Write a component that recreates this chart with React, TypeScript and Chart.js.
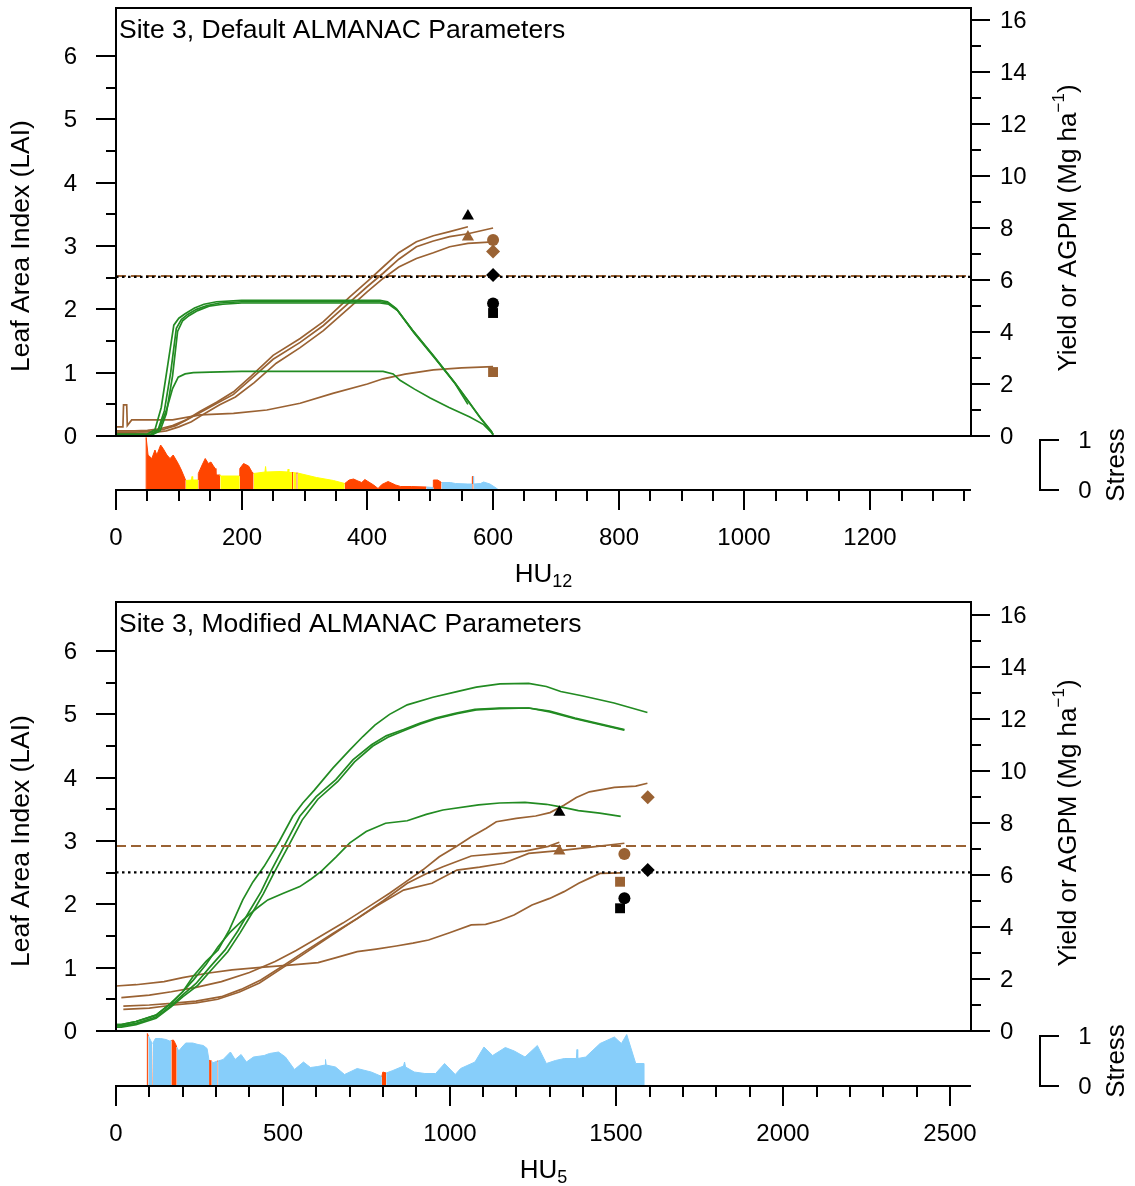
import React, { useEffect, useRef } from "react";
import { Chart, registerables } from "chart.js";

Chart.register(...registerables);

const W = 1135;
const FONT = "'Liberation Sans', Arial, Helvetica, sans-serif";
const GREEN = "#228B22";
const BROWN = "#9A6233";
const BLACK = "#000000";
const RED = "#FF4500";
const YELLOW = "#FFFF00";
const BLUE = "#87CEFA";
const STRESS_COLORS = [RED, YELLOW, BLUE]; // 0 = red, 1 = yellow, 2 = blue

// ---------------- shared tick labels ----------------
const LAI_TICKS = [0, 1, 2, 3, 4, 5, 6];
const YIELD_TICKS = [0, 2, 4, 6, 8, 10, 12, 14, 16];
const STRESS_TICKS = [0, 1];
const MARKER_SHAPES = ["triangle", "rectRot", "circle", "rect"];
const MARKER_SIZES = [7, 7, 6, 7];

// ---------------- TOP panel (Default ALMANAC parameters) ----------------
const TOP_X_TICKS = [0, 200, 400, 600, 800, 1000, 1200];

const TOP_LAI_1_X = [0, 50, 62, 72, 82, 92, 100, 110, 125, 140, 160, 200, 300, 420, 432, 445, 472, 505, 537, 558, 579, 597, 600];
const TOP_LAI_1_Y = [0.03, 0.03, 0.1, 0.45, 1.1, 1.75, 1.86, 1.93, 2.02, 2.08, 2.12, 2.14, 2.14, 2.14, 2.12, 2.02, 1.67, 1.27, 0.87, 0.58, 0.3, 0.08, 0.02];
const TOP_LAI_2_X = [0, 55, 67, 77, 87, 96, 104, 114, 128, 145, 165, 200, 300, 420, 433, 447, 474, 507, 540, 560];
const TOP_LAI_2_Y = [0.02, 0.02, 0.1, 0.4, 1.0, 1.7, 1.84, 1.92, 2.0, 2.06, 2.1, 2.12, 2.12, 2.12, 2.1, 2.0, 1.64, 1.24, 0.82, 0.5];
const TOP_LAI_3_X = [0, 58, 70, 80, 90, 98, 106, 116, 130, 148, 170, 200, 300, 420, 434, 448, 475, 508, 540, 560, 580, 598, 600];
const TOP_LAI_3_Y = [0.02, 0.02, 0.08, 0.35, 0.95, 1.65, 1.82, 1.9, 1.98, 2.05, 2.08, 2.1, 2.1, 2.1, 2.08, 1.98, 1.62, 1.22, 0.83, 0.56, 0.28, 0.06, 0.01];
const TOP_LAI_4_X = [0, 55, 68, 80, 90, 99, 110, 123, 150, 200, 300, 425, 441, 452, 475, 500, 530, 563, 585, 600];
const TOP_LAI_4_Y = [0.02, 0.02, 0.1, 0.4, 0.75, 0.93, 0.98, 1.0, 1.01, 1.02, 1.02, 1.02, 0.98, 0.88, 0.74, 0.6, 0.45, 0.3, 0.18, 0.03];

const TOP_AGPM_1_X = [0, 11, 12, 17, 18, 25, 90, 134, 187, 240, 293, 345, 400, 425, 460, 505, 550, 600];
const TOP_AGPM_1_Y = [0.35, 0.35, 1.2, 1.2, 0.4, 0.62, 0.62, 0.81, 0.87, 1.0, 1.26, 1.64, 2.0, 2.2, 2.38, 2.54, 2.62, 2.67];
const TOP_AGPM_2_X = [0, 30, 50, 70, 90, 110, 134, 160, 187, 215, 250, 293, 330, 372, 400, 425, 450, 478, 505, 531, 560];
const TOP_AGPM_2_Y = [0.2, 0.2, 0.22, 0.28, 0.4, 0.6, 0.95, 1.3, 1.7, 2.3, 3.1, 3.75, 4.4, 5.35, 5.95, 6.5, 7.05, 7.47, 7.7, 7.86, 8.05];
const TOP_AGPM_3_X = [0, 30, 55, 75, 95, 115, 134, 160, 187, 215, 250, 293, 330, 372, 400, 425, 450, 478, 505, 531, 560, 600];
const TOP_AGPM_3_Y = [0.15, 0.15, 0.18, 0.25, 0.4, 0.65, 0.9, 1.25, 1.6, 2.2, 2.95, 3.6, 4.25, 5.15, 5.75, 6.26, 6.8, 7.28, 7.5, 7.67, 7.78, 8.0];
const TOP_AGPM_4_X = [0, 30, 55, 80, 100, 120, 140, 165, 190, 220, 255, 293, 330, 372, 400, 425, 450, 478, 505, 531, 560, 600];
const TOP_AGPM_4_Y = [0.1, 0.1, 0.12, 0.2, 0.35, 0.55, 0.85, 1.2, 1.5, 2.05, 2.8, 3.4, 4.05, 4.95, 5.55, 6.06, 6.5, 6.83, 7.05, 7.28, 7.41, 7.47];

const TOP_OBS_X = [560, 600, 600, 600];
const TOP_OBS_Y = [8.46, 6.19, 5.1, 4.73];
const TOP_SIM_X = [560, 600, 600, 600];
const TOP_SIM_Y = [7.65, 7.1, 7.54, 2.46];
const TOP_MEAN_SIM = 6.15;
const TOP_MEAN_OBS = 6.12;

const TOP_STRESS_X = [48, 48, 51, 57, 62, 65, 71, 75, 81, 86, 91, 99, 104, 111, 120, 121, 122, 131, 131, 137, 142, 147, 151, 155, 158, 159, 166, 166, 197, 197, 203, 211, 216, 219, 237, 238, 239, 261, 273, 274, 275, 280, 282, 287, 289, 319, 346, 364, 371, 378, 385, 391, 396, 401, 410, 417, 423, 433, 445, 453, 470, 494, 505, 505, 512, 518, 532, 540, 560, 567, 567, 569, 569, 580, 585, 595, 606, 606];
const TOP_STRESS_Y = [0, 1.05, 0.7, 0.63, 0.8, 0.7, 0.9, 0.83, 0.7, 0.63, 0.7, 0.53, 0.4, 0.19, 0.2, 0.27, 0.2, 0.2, 0.33, 0.5, 0.63, 0.53, 0.56, 0.48, 0.43, 0.3, 0.3, 0.28, 0.28, 0.43, 0.53, 0.48, 0.37, 0.33, 0.36, 0.47, 0.36, 0.37, 0.36, 0.42, 0.35, 0.35, 0.35, 0.34, 0.34, 0.25, 0.19, 0.13, 0.2, 0.22, 0.18, 0.15, 0.21, 0.17, 0.1, 0.03, 0.11, 0.17, 0.1, 0.07, 0.07, 0.06, 0.05, 0.2, 0.2, 0.15, 0.15, 0.13, 0.12, 0.12, 0.27, 0.27, 0.12, 0.13, 0.16, 0.12, 0.03, 0];
const TOP_STRESS_T = [0, 0, 0, 0, 0, 0, 0, 0, 0, 0, 0, 0, 0, 1, 1, 1, 1, 0, 0, 0, 0, 0, 0, 0, 0, 0, 1, 1, 0, 0, 0, 0, 0, 1, 1, 1, 1, 1, 1, 1, 1, 0, 1, 0, 1, 1, 1, 0, 0, 0, 0, 0, 0, 0, 0, 0, 0, 0, 0, 0, 0, 2, 0, 0, 0, 2, 2, 2, 2, 0, 0, 2, 2, 2, 2, 2, 2, 2];

// ---------------- BOTTOM panel (Modified ALMANAC parameters) ----------------
const BOT_X_TICKS = [0, 500, 1000, 1500, 2000, 2500];

const BOT_LAI_1_X = [0, 16, 60, 120, 165, 200, 231, 270, 306, 340, 380, 410, 444, 490, 530, 560, 594, 650, 701, 740, 776, 820, 873, 950, 1022, 1080, 1151, 1237, 1290, 1333, 1400, 1493, 1593];
const BOT_LAI_1_Y = [0.1, 0.1, 0.15, 0.25, 0.44, 0.62, 0.86, 1.1, 1.28, 1.6, 2.07, 2.35, 2.6, 3.0, 3.39, 3.6, 3.8, 4.15, 4.44, 4.65, 4.83, 5.0, 5.15, 5.27, 5.36, 5.43, 5.48, 5.49, 5.44, 5.36, 5.29, 5.18, 5.03];
const BOT_LAI_2_X = [0, 16, 60, 120, 165, 200, 240, 280, 327, 365, 402, 435, 466, 510, 551, 600, 659, 710, 766, 810, 862, 910, 958, 1020, 1076, 1150, 1237, 1300, 1376, 1450, 1524];
const BOT_LAI_2_Y = [0.08, 0.08, 0.12, 0.22, 0.4, 0.57, 0.75, 1.0, 1.28, 1.58, 1.91, 2.2, 2.54, 2.98, 3.39, 3.7, 3.97, 4.28, 4.52, 4.66, 4.76, 4.86, 4.94, 5.02, 5.08, 5.1, 5.1, 5.05, 4.94, 4.85, 4.76];
const BOT_LAI_3_X = [0, 16, 60, 120, 165, 200, 245, 285, 335, 372, 410, 442, 474, 518, 558, 605, 665, 715, 770, 815, 866, 913, 960, 1022, 1080, 1150, 1237, 1300, 1376, 1450, 1524];
const BOT_LAI_3_Y = [0.06, 0.06, 0.1, 0.2, 0.38, 0.54, 0.72, 0.96, 1.25, 1.55, 1.88, 2.17, 2.5, 2.93, 3.33, 3.66, 3.94, 4.25, 4.5, 4.64, 4.75, 4.85, 4.93, 5.01, 5.07, 5.09, 5.1, 5.04, 4.93, 4.84, 4.75];
const BOT_LAI_4_X = [0, 16, 60, 120, 165, 200, 231, 270, 306, 340, 380, 420, 455, 500, 551, 585, 615, 660, 701, 750, 808, 873, 930, 980, 1087, 1150, 1226, 1290, 1333, 1386, 1450, 1513];
const BOT_LAI_4_Y = [0.1, 0.1, 0.15, 0.25, 0.44, 0.62, 0.8, 1.05, 1.33, 1.55, 1.75, 1.93, 2.07, 2.17, 2.28, 2.4, 2.52, 2.75, 2.97, 3.15, 3.28, 3.32, 3.42, 3.49, 3.57, 3.6, 3.61, 3.58, 3.54, 3.48, 3.44, 3.39];

const BOT_AGPM_1_X = [0, 60, 144, 200, 273, 348, 434, 520, 606, 660, 723, 780, 840, 890, 937, 1000, 1065, 1108, 1150, 1193, 1247, 1300, 1343, 1387, 1420, 1451, 1513];
const BOT_AGPM_1_Y = [1.73, 1.78, 1.9, 2.05, 2.22, 2.35, 2.45, 2.53, 2.63, 2.82, 3.05, 3.15, 3.27, 3.38, 3.5, 3.78, 4.08, 4.1, 4.25, 4.46, 4.85, 5.1, 5.36, 5.68, 5.88, 6.06, 6.08];
const BOT_AGPM_2_X = [16, 100, 166, 240, 316, 400, 477, 540, 594, 680, 766, 820, 862, 920, 969, 1020, 1065, 1110, 1140, 1200, 1258, 1301, 1344, 1380, 1419, 1494, 1558, 1593];
const BOT_AGPM_2_Y = [1.28, 1.38, 1.51, 1.68, 1.9, 2.25, 2.67, 3.1, 3.5, 4.15, 4.85, 5.3, 5.68, 6.2, 6.7, 7.1, 7.47, 7.8, 8.05, 8.18, 8.27, 8.4, 8.69, 8.98, 9.2, 9.37, 9.42, 9.53];
const BOT_AGPM_3_X = [22, 100, 166, 240, 316, 375, 434, 500, 573, 650, 723, 800, 873, 930, 980, 1065, 1154, 1226, 1296, 1329];
const BOT_AGPM_3_Y = [0.96, 1.0, 1.06, 1.15, 1.32, 1.6, 1.96, 2.5, 3.12, 3.75, 4.33, 5.0, 5.68, 6.05, 6.32, 6.73, 6.83, 6.92, 7.1, 7.26];
const BOT_AGPM_4_X = [22, 100, 166, 240, 305, 370, 430, 490, 551, 625, 701, 780, 862, 947, 1022, 1090, 1162, 1237, 1344, 1430, 1524];
const BOT_AGPM_4_Y = [0.83, 0.88, 0.99, 1.08, 1.22, 1.5, 1.85, 2.35, 2.86, 3.5, 4.14, 4.8, 5.42, 5.68, 6.19, 6.3, 6.45, 6.83, 6.96, 7.08, 7.22];

const BOT_OBS_X = [1329, 1594, 1524, 1511];
const BOT_OBS_Y = [8.41, 6.19, 5.11, 4.72];
const BOT_SIM_X = [1329, 1594, 1524, 1511];
const BOT_SIM_Y = [6.92, 8.99, 6.81, 5.74];
const BOT_MEAN_SIM = 7.12;
const BOT_MEAN_OBS = 6.1;

const BOT_STRESS_X = [94, 94, 97, 104, 108, 110, 118, 134, 150, 161, 166, 172, 178, 182, 188, 198, 209, 230, 246, 262, 273, 279, 287, 289, 304, 306, 321, 343, 357, 375, 391, 412, 444, 460, 487, 508, 535, 562, 583, 605, 627, 628, 630, 658, 685, 723, 765, 797, 800, 810, 830, 862, 865, 868, 894, 926, 958, 985, 1017, 1033, 1076, 1103, 1129, 1167, 1194, 1226, 1263, 1290, 1317, 1344, 1380, 1382, 1384, 1408, 1451, 1494, 1515, 1531, 1558, 1582, 1582];
const BOT_STRESS_Y = [0, 1.05, 1.0, 0.91, 0.85, 0.85, 0.95, 0.95, 0.93, 0.9, 0.91, 0.92, 0.85, 0.78, 0.7, 0.78, 0.86, 0.86, 0.83, 0.81, 0.75, 0.51, 0.5, 0.46, 0.5, 0.5, 0.53, 0.68, 0.53, 0.63, 0.48, 0.58, 0.61, 0.65, 0.68, 0.58, 0.33, 0.48, 0.37, 0.39, 0.42, 0.53, 0.42, 0.38, 0.23, 0.35, 0.28, 0.19, 0.28, 0.26, 0.31, 0.4, 0.48, 0.38, 0.28, 0.25, 0.25, 0.45, 0.23, 0.35, 0.48, 0.78, 0.61, 0.77, 0.7, 0.58, 0.81, 0.45, 0.51, 0.55, 0.55, 0.73, 0.55, 0.58, 0.85, 0.98, 0.85, 1.03, 0.45, 0.45, 0];
const BOT_STRESS_T = [0, 0, 2, 2, 0, 2, 2, 2, 2, 2, 0, 0, 0, 2, 2, 2, 2, 2, 2, 2, 2, 0, 2, 2, 0, 2, 2, 2, 2, 2, 2, 2, 2, 2, 2, 2, 2, 2, 2, 2, 2, 2, 2, 2, 2, 2, 2, 0, 0, 2, 2, 2, 2, 2, 2, 2, 2, 2, 2, 2, 2, 2, 2, 2, 2, 2, 2, 2, 2, 2, 2, 2, 2, 2, 2, 2, 2, 2, 2, 2, 2];

// ---------------- helpers ----------------
function pts(xs: number[], ys: number[]) {
  return xs.map((x, i) => ({ x, y: ys[i] }));
}

type PanelCfg = {
  top: number;
  h: number;
  boxTop: number;
  boxBottom: number;
  axisY: number;
  xMax: number;
  xTicks: number[];
  xMinor: number;
  title: string;
  sub: string;
  lai: [number[], number[]][];
  agpm: [number[], number[]][];
  obs: [number[], number[]];
  sim: [number[], number[]];
  meanSim: number;
  meanObs: number;
  stress: [number[], number[], number[]];
};

const PX_LAI = 63.33; // pixels per LAI unit
const PX_YIELD = 26.0; // pixels per Mg/ha
const PX_STRESS = 50; // pixels per stress unit
const BOX_LEFT = 116;
const BOX_RIGHT = 971;

const PANELS: PanelCfg[] = [
  {
    top: 0, h: 594, boxTop: 8, boxBottom: 436, axisY: 490,
    xMax: 1360.5, xTicks: TOP_X_TICKS, xMinor: 50,
    title: "Site 3, Default ALMANAC Parameters", sub: "12",
    lai: [[TOP_LAI_1_X, TOP_LAI_1_Y], [TOP_LAI_2_X, TOP_LAI_2_Y], [TOP_LAI_3_X, TOP_LAI_3_Y], [TOP_LAI_4_X, TOP_LAI_4_Y]],
    agpm: [[TOP_AGPM_1_X, TOP_AGPM_1_Y], [TOP_AGPM_2_X, TOP_AGPM_2_Y], [TOP_AGPM_3_X, TOP_AGPM_3_Y], [TOP_AGPM_4_X, TOP_AGPM_4_Y]],
    obs: [TOP_OBS_X, TOP_OBS_Y], sim: [TOP_SIM_X, TOP_SIM_Y],
    meanSim: TOP_MEAN_SIM, meanObs: TOP_MEAN_OBS,
    stress: [TOP_STRESS_X, TOP_STRESS_Y, TOP_STRESS_T],
  },
  {
    top: 594, h: 592, boxTop: 8, boxBottom: 437, axisY: 492,
    xMax: 2563, xTicks: BOT_X_TICKS, xMinor: 100,
    title: "Site 3, Modified ALMANAC Parameters", sub: "5",
    lai: [[BOT_LAI_1_X, BOT_LAI_1_Y], [BOT_LAI_2_X, BOT_LAI_2_Y], [BOT_LAI_3_X, BOT_LAI_3_Y], [BOT_LAI_4_X, BOT_LAI_4_Y]],
    agpm: [[BOT_AGPM_1_X, BOT_AGPM_1_Y], [BOT_AGPM_2_X, BOT_AGPM_2_Y], [BOT_AGPM_3_X, BOT_AGPM_3_Y], [BOT_AGPM_4_X, BOT_AGPM_4_Y]],
    obs: [BOT_OBS_X, BOT_OBS_Y], sim: [BOT_SIM_X, BOT_SIM_Y],
    meanSim: BOT_MEAN_SIM, meanObs: BOT_MEAN_OBS,
    stress: [BOT_STRESS_X, BOT_STRESS_Y, BOT_STRESS_T],
  },
];

function line(ctx: CanvasRenderingContext2D, x1: number, y1: number, x2: number, y2: number) {
  ctx.beginPath();
  ctx.moveTo(x1, y1);
  ctx.lineTo(x2, y2);
  ctx.stroke();
}

// draws rotated (-90deg) text made of parts, centred at (cx, cy)
function rotatedText(ctx: CanvasRenderingContext2D, parts: { t: string; font: string; dy: number }[], cx: number, cy: number) {
  ctx.save();
  ctx.translate(cx, cy);
  ctx.rotate(-Math.PI / 2);
  ctx.textAlign = "left";
  ctx.textBaseline = "middle";
  let total = 0;
  parts.forEach((p) => { ctx.font = p.font; total += ctx.measureText(p.t).width; });
  let x = -total / 2;
  parts.forEach((p) => {
    ctx.font = p.font;
    ctx.fillText(p.t, x, p.dy);
    x += ctx.measureText(p.t).width;
  });
  ctx.restore();
}

function mainPlugin(cfg: PanelCfg) {
  return {
    id: "mainAxes",
    afterDraw(chart: any) {
      const ctx: CanvasRenderingContext2D = chart.ctx;
      const ca = chart.chartArea;
      const yL = chart.scales.y;
      const yR = chart.scales.y2;
      ctx.save();
      ctx.strokeStyle = "#000";
      ctx.fillStyle = "#000";
      ctx.lineWidth = 2;
      ctx.strokeRect(ca.left, ca.top, ca.right - ca.left, ca.bottom - ca.top);

      ctx.font = `24px ${FONT}`;
      ctx.textBaseline = "middle";
      // left LAI axis
      ctx.textAlign = "right";
      LAI_TICKS.forEach((v, i) => {
        const py = Math.round(yL.getPixelForValue(v));
        line(ctx, ca.left - 20, py, ca.left, py);
        ctx.fillText(String(v), ca.left - 39, py + 1);
        if (i < LAI_TICKS.length - 1) {
          const pm = Math.round(yL.getPixelForValue(v + (LAI_TICKS[i + 1] - v) / 2));
          line(ctx, ca.left - 10, pm, ca.left, pm);
        }
      });
      // right yield axis
      ctx.textAlign = "left";
      YIELD_TICKS.forEach((v, i) => {
        const py = Math.round(yR.getPixelForValue(v));
        line(ctx, ca.right, py, ca.right + 19, py);
        ctx.fillText(String(v), ca.right + 29, py + 1);
        if (i < YIELD_TICKS.length - 1) {
          const pm = Math.round(yR.getPixelForValue(v + (YIELD_TICKS[i + 1] - v) / 2));
          line(ctx, ca.right, pm, ca.right + 10, pm);
        }
      });
      // titles
      rotatedText(ctx, [{ t: "Leaf Area Index (LAI)", font: `26.5px ${FONT}`, dy: 0 }], 22, yL.getPixelForValue(3));
      rotatedText(
        ctx,
        [
          { t: "Yield or AGPM (Mg ha", font: `26px ${FONT}`, dy: 0 },
          { t: "\u22121", font: `17px ${FONT}`, dy: -10 },
          { t: ")", font: `26px ${FONT}`, dy: 0 },
        ],
        1069,
        yR.getPixelForValue(8)
      );
      // panel label
      ctx.font = `26.5px ${FONT}`;
      ctx.textAlign = "left";
      ctx.textBaseline = "middle";
      ctx.fillText(cfg.title, ca.left + 3, ca.top + 23);
      ctx.restore();
    },
  };
}

function stressPlugin(cfg: PanelCfg) {
  return {
    id: "stressAxes",
    afterDraw(chart: any) {
      const ctx: CanvasRenderingContext2D = chart.ctx;
      const ca = chart.chartArea;
      const xs = chart.scales.x;
      const ys = chart.scales.y;
      const ay = ca.bottom;
      ctx.save();
      ctx.strokeStyle = "#000";
      ctx.fillStyle = "#000";
      ctx.lineWidth = 2;
      line(ctx, ca.left - 1, ay, ca.right, ay);
      // minor ticks
      for (let v = 0; v <= cfg.xMax; v += cfg.xMinor) {
        if (cfg.xTicks.indexOf(v) >= 0) continue;
        const px = Math.round(xs.getPixelForValue(v));
        line(ctx, px, ay, px, ay + 11);
      }
      ctx.font = `24px ${FONT}`;
      ctx.textAlign = "center";
      ctx.textBaseline = "middle";
      cfg.xTicks.forEach((v) => {
        const px = Math.round(xs.getPixelForValue(v));
        line(ctx, px, ay, px, ay + 20);
        ctx.fillText(String(v), px, ay + 48);
      });
      // x title with subscript
      const cx = (ca.left + ca.right) / 2;
      ctx.font = `26px ${FONT}`;
      const w1 = ctx.measureText("HU").width;
      ctx.font = `18px ${FONT}`;
      const w2 = ctx.measureText(cfg.sub).width;
      const sx = cx - (w1 + w2) / 2;
      ctx.textAlign = "left";
      ctx.font = `26px ${FONT}`;
      ctx.fillText("HU", sx, ay + 85);
      ctx.font = `18px ${FONT}`;
      ctx.fillText(cfg.sub, sx + w1, ay + 92);
      // stress axis bracket
      const bx = 1040;
      const y1 = Math.round(ys.getPixelForValue(STRESS_TICKS[1]));
      const y0 = Math.round(ys.getPixelForValue(STRESS_TICKS[0]));
      ctx.beginPath();
      ctx.moveTo(bx + 19, y1);
      ctx.lineTo(bx, y1);
      ctx.lineTo(bx, y0);
      ctx.lineTo(bx + 19, y0);
      ctx.stroke();
      ctx.font = `24px ${FONT}`;
      ctx.textAlign = "center";
      STRESS_TICKS.forEach((v) => {
        ctx.fillText(String(v), 1085, ys.getPixelForValue(v) + 1);
      });
      rotatedText(ctx, [{ t: "Stress", font: `26px ${FONT}`, dy: 0 }], 1117, (y0 + y1) / 2);
      ctx.restore();
    },
  };
}

function buildMain(cfg: PanelCfg): any {
  const datasets: any[] = [];
  datasets.push({
    data: pts(cfg.obs[0], cfg.obs[1]), yAxisID: "y2", showLine: false,
    pointStyle: MARKER_SHAPES, pointRadius: MARKER_SIZES, pointBackgroundColor: BLACK,
    pointBorderColor: BLACK, pointBorderWidth: 0,
  });
  datasets.push({
    data: pts(cfg.sim[0], cfg.sim[1]), yAxisID: "y2", showLine: false,
    pointStyle: MARKER_SHAPES, pointRadius: MARKER_SIZES, pointBackgroundColor: BROWN,
    pointBorderColor: BROWN, pointBorderWidth: 0,
  });
  datasets.push({
    data: [{ x: 0, y: cfg.meanObs }, { x: cfg.xMax, y: cfg.meanObs }], yAxisID: "y2",
    borderColor: BLACK, borderWidth: 2.2, borderDash: [2.5, 3.5], pointRadius: 0,
  });
  datasets.push({
    data: [{ x: 0, y: cfg.meanSim }, { x: cfg.xMax, y: cfg.meanSim }], yAxisID: "y2",
    borderColor: BROWN, borderWidth: 2, borderDash: [10, 5], pointRadius: 0,
  });
  cfg.lai.forEach(([xs, ys]) =>
    datasets.push({ data: pts(xs, ys), yAxisID: "y", borderColor: GREEN, borderWidth: 1.7, pointRadius: 0 })
  );
  cfg.agpm.forEach(([xs, ys]) =>
    datasets.push({ data: pts(xs, ys), yAxisID: "y2", borderColor: BROWN, borderWidth: 1.7, pointRadius: 0 })
  );
  const plotH = cfg.boxBottom - cfg.boxTop;
  return {
    type: "line",
    data: { datasets },
    options: {
      responsive: false,
      animation: false,
      devicePixelRatio: 1,
      events: [],
      layout: { padding: { left: BOX_LEFT, right: W - BOX_RIGHT, top: cfg.boxTop, bottom: cfg.h - cfg.boxBottom } },
      plugins: { legend: { display: false }, tooltip: { enabled: false }, title: { display: false } },
      elements: { line: { tension: 0, fill: false }, point: { radius: 0 } },
      scales: {
        x: { type: "linear", min: 0, max: cfg.xMax, display: false },
        y: { type: "linear", min: 0, max: plotH / PX_LAI, display: false },
        y2: { type: "linear", position: "right", min: 0, max: plotH / PX_YIELD, display: false },
      },
    },
    plugins: [mainPlugin(cfg)],
  };
}

function buildStress(cfg: PanelCfg): any {
  const [sx, sy, st] = cfg.stress;
  const top = cfg.boxBottom;
  const color = (c: any) => STRESS_COLORS[st[c.p0DataIndex]];
  return {
    type: "line",
    data: {
      datasets: [
        {
          data: pts(sx, sy),
          fill: "origin",
          backgroundColor: RED,
          borderColor: RED,
          borderWidth: 1,
          pointRadius: 0,
          segment: { backgroundColor: color, borderColor: color },
        },
      ],
    },
    options: {
      responsive: false,
      animation: false,
      devicePixelRatio: 1,
      events: [],
      layout: { padding: { left: BOX_LEFT, right: W - BOX_RIGHT, top: top, bottom: cfg.h - cfg.axisY } },
      plugins: { legend: { display: false }, tooltip: { enabled: false }, title: { display: false } },
      elements: { line: { tension: 0 }, point: { radius: 0 } },
      scales: {
        x: { type: "linear", min: 0, max: cfg.xMax, display: false },
        y: { type: "linear", min: 0, max: (cfg.axisY - top) / PX_STRESS, display: false },
      },
    },
    plugins: [stressPlugin(cfg)],
  };
}

function Panel({ cfg }: { cfg: PanelCfg }) {
  const mainRef = useRef<HTMLCanvasElement>(null);
  const stressRef = useRef<HTMLCanvasElement>(null);
  useEffect(() => {
    const main = new Chart(mainRef.current as HTMLCanvasElement, buildMain(cfg));
    const stress = new Chart(stressRef.current as HTMLCanvasElement, buildStress(cfg));
    return () => {
      main.destroy();
      stress.destroy();
    };
  }, [cfg]);
  const cs: React.CSSProperties = { position: "absolute", left: 0, top: 0, width: W, height: cfg.h };
  return (
    <div style={{ position: "absolute", left: 0, top: cfg.top, width: W, height: cfg.h }}>
      <canvas ref={mainRef} width={W} height={cfg.h} style={cs} />
      <canvas ref={stressRef} width={W} height={cfg.h} style={cs} />
    </div>
  );
}

export default function App() {
  return (
    <div style={{ position: "absolute", left: 0, top: 0, width: W, height: 1186, overflow: "hidden", background: "#fff" }}>
      {PANELS.map((p, i) => (
        <Panel key={i} cfg={p} />
      ))}
    </div>
  );
}
